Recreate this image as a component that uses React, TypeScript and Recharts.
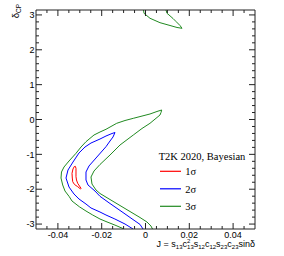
import React from "react"
import { LineChart, Line, XAxis, YAxis, Legend, Label } from "recharts"

// contour points [J, deltaCP]
const sigma1: number[][] = [
  [-0.03251, -1.349], [-0.03311, -1.42], [-0.03356, -1.544], [-0.03342, -1.679],
  [-0.03324, -1.785], [-0.03242, -1.865], [-0.03096, -1.928], [-0.02968, -1.994],
  [-0.02945, -1.974], [-0.03014, -1.908], [-0.03096, -1.831], [-0.03151, -1.736],
  [-0.03174, -1.641], [-0.03174, -1.506], [-0.03174, -1.4], [-0.03205, -1.343],
  [-0.03251, -1.349],
]

const sigma2: number[][] = [
  [-0.00571, -3.1416], [-0.00936, -2.999], [-0.01397, -2.855], [-0.01804, -2.74],
  [-0.02078, -2.654], [-0.02489, -2.539], [-0.02717, -2.425], [-0.03037, -2.281],
  [-0.03265, -2.138], [-0.03493, -1.937], [-0.0363, -1.679], [-0.03539, -1.449],
  [-0.03311, -1.22], [-0.03037, -0.961], [-0.02763, -0.789], [-0.02489, -0.675],
  [-0.02078, -0.56], [-0.01804, -0.474], [-0.0153, -0.402], [-0.01393, -0.373],
  [-0.01484, -0.502], [-0.01621, -0.617], [-0.01804, -0.78], [-0.0226, -1.105],
  [-0.0258, -1.334], [-0.02717, -1.506], [-0.02717, -1.736], [-0.02626, -1.879],
  [-0.02306, -2.052], [-0.02078, -2.204], [-0.01621, -2.41], [-0.01073, -2.649],
  [-0.00571, -2.87], [-0.00251, -3.01], [-0.00114, -3.1416],
]

const sigma3: number[][] = [
  [-0.00982, -3.1416], [-0.01347, -3.042], [-0.01804, -2.927], [-0.02078, -2.855],
  [-0.02411, -2.74], [-0.02717, -2.626], [-0.03023, -2.502], [-0.03356, -2.339],
  [-0.03479, -2.215], [-0.03676, -2.052], [-0.03781, -1.879], [-0.03858, -1.679],
  [-0.03836, -1.506], [-0.03721, -1.363], [-0.03493, -1.191], [-0.03174, -0.97],
  [-0.02945, -0.789], [-0.02717, -0.637], [-0.02352, -0.445], [-0.02078, -0.359],
  [-0.01804, -0.281], [-0.01315, -0.109], [-0.00936, -0.029], [-0.00557, 0.034],
  [0.00205, 0.158], [0.00525, 0.23], [0.0074, 0.273], [0.00708, 0.201],
  [0.00662, 0.129], [0.00205, -0.109], [-0.0016, -0.258], [-0.00557, -0.445],
  [-0.01164, -0.732], [-0.01621, -1.019], [-0.02078, -1.291], [-0.02352, -1.478],
  [-0.02489, -1.65], [-0.02443, -1.851], [-0.0226, -2.023], [-0.02078, -2.123],
  [-0.01621, -2.296], [-0.00936, -2.554], [-0.00251, -2.812], [0.00068, -2.941],
  [0.00251, -3.056], [0.0032, -3.1416],
]

// part of the 3 sigma region wrapping round to the top
const sigma3Top: number[][] = [
  [-0.00091, 3.1416], [-0.00068, 3.047], [0.00205, 2.904], [0.00662, 2.778],
  [0.01119, 2.697], [0.01438, 2.64], [0.01667, 2.617], [0.01575, 2.697],
  [0.01393, 2.812], [0.01256, 2.898], [0.01073, 2.999], [0.00982, 3.047],
  [0.00936, 3.1416],
]

const levelNames = ["1σ", "2σ", "3σ"]
const levelColors = ["#ff0000", "#0000ff", "#218a21"]

const xTicks = [
  -0.045, -0.04, -0.035, -0.03, -0.025, -0.02, -0.015, -0.01, -0.005, 0,
  0.005, 0.01, 0.015, 0.02, 0.025, 0.03, 0.035, 0.04, 0.045,
]
const xMajor = [-0.04, -0.02, 0, 0.02, 0.04]
const xLabels = ["-0.04", "-0.02", "0", "0.02", "0.04"]

const yTicks = [
  -3, -2.8, -2.6, -2.4, -2.2, -2, -1.8, -1.6, -1.4, -1.2, -1, -0.8, -0.6, -0.4, -0.2, 0,
  0.2, 0.4, 0.6, 0.8, 1, 1.2, 1.4, 1.6, 1.8, 2, 2.2, 2.4, 2.6, 2.8, 3,
]
const yMajor = [-3, -2, -1, 0, 1, 2, 3]
const yLabels = ["-3", "-2", "-1", "0", "1", "2", "3"]

const toRows = (pts: number[][]) => pts.map(([x, y]) => ({ x, y }))

const sans = "Liberation Sans, Arial, sans-serif"
const serif = "Liberation Serif, Times New Roman, serif"
const axisCol = "#222"

const findIdx = (list: number[], v: number) => list.findIndex((m) => Math.abs(m - v) < 1e-9)

function XTick(props: any) {
  const { x, y, payload, side } = props
  const i = findIdx(xMajor, payload.value)
  const len = i >= 0 ? 6 : 3
  const dir = side === "bottom" ? -1 : 1
  return (
    <g>
      <line x1={x} y1={y} x2={x} y2={y + dir * len} stroke={axisCol} />
      {side === "bottom" && i >= 0 && (
        <text x={x} y={y + 9} textAnchor="middle" fontSize={9} fontFamily={sans} fill="#000">
          {xLabels[i]}
        </text>
      )}
    </g>
  )
}

function YTick(props: any) {
  const { x, y, payload, side } = props
  const i = findIdx(yMajor, payload.value)
  const len = i >= 0 ? 6 : 3
  const dir = side === "left" ? 1 : -1
  return (
    <g>
      <line x1={x} y1={y} x2={x + dir * len} y2={y} stroke={axisCol} />
      {side === "left" && i >= 0 && (
        <text x={x - 1.5} y={y + 3.2} textAnchor="end" fontSize={9} fontFamily={sans} fill="#000">
          {yLabels[i]}
        </text>
      )}
    </g>
  )
}

function XTitle(props: any) {
  const vb = props.viewBox
  const sub = { fontSize: 6 }
  return (
    <text x={vb.x + vb.width} y={vb.y + 17.5} textAnchor="end" fontSize={9} fontFamily={sans} fill="#000">
      J = s<tspan dy={2.5} {...sub}>13</tspan>
      <tspan dy={-2.5}>c</tspan>
      <tspan dy={-3.5} {...sub}>2</tspan>
      <tspan dy={6} dx={-3.3} {...sub}>13</tspan>
      <tspan dy={-2.5}>s</tspan>
      <tspan dy={2.5} {...sub}>12</tspan>
      <tspan dy={-2.5}>c</tspan>
      <tspan dy={2.5} {...sub}>12</tspan>
      <tspan dy={-2.5}>s</tspan>
      <tspan dy={2.5} {...sub}>23</tspan>
      <tspan dy={-2.5}>c</tspan>
      <tspan dy={2.5} {...sub}>23</tspan>
      <tspan dy={-2.5}>sinδ</tspan>
    </text>
  )
}

function YTitle(props: any) {
  const vb = props.viewBox
  const tx = vb.x + vb.width - 17
  const ty = vb.y - 6
  return (
    <text x={tx} y={ty} transform={`rotate(-90, ${tx}, ${ty})`} textAnchor="end" fontSize={9.5} fontFamily={sans} fill="#000">
      δ<tspan dy={2.2} fontSize={6.5}>CP</tspan>
    </text>
  )
}

function LegendBox() {
  return (
    <svg width={100} height={70} style={{ display: "block" }}>
      <text x={2.7} y={12} fontSize={10.5} fontFamily={serif} fill="#000">
        T2K 2020, Bayesian
      </text>
      {levelNames.map((name, i) => (
        <g key={name}>
          <line x1={4} x2={25} y1={23.3 + i * 17.5} y2={23.3 + i * 17.5} stroke={levelColors[i]} strokeWidth={1.2} />
          <text x={29.3} y={27 + i * 17.5} fontSize={10.5} fontFamily={serif} fill="#000">
            {name}
          </text>
        </g>
      ))}
    </svg>
  )
}

const series = [
  { key: "s3", data: toRows(sigma3), color: levelColors[2] },
  { key: "s3top", data: toRows(sigma3Top), color: levelColors[2] },
  { key: "s2", data: toRows(sigma2), color: levelColors[1] },
  { key: "s1", data: toRows(sigma1), color: levelColors[0] },
]

export default function App() {
  return (
    <div style={{ position: "absolute", left: 0, top: 0, width: 284, height: 256, background: "#fff" }}>
      <LineChart width={284} height={256} margin={{ top: 9, right: 28, bottom: 26, left: 35 }}>
        <XAxis
          xAxisId="b" type="number" dataKey="x" domain={[-0.05, 0.05]} allowDataOverflow
          ticks={xTicks} interval={0} height={1} tickSize={0} tickMargin={0} tickLine={false}
          axisLine={{ stroke: axisCol }}
          tick={(p: any) => <XTick {...p} side="bottom" />}
        >
          <Label content={XTitle} />
        </XAxis>
        <XAxis
          xAxisId="t" orientation="top" type="number" dataKey="x" domain={[-0.05, 0.05]} allowDataOverflow
          ticks={xTicks} interval={0} height={1} tickSize={0} tickMargin={0} tickLine={false}
          axisLine={{ stroke: axisCol }}
          tick={(p: any) => <XTick {...p} side="top" />}
        />
        <YAxis
          yAxisId="l" type="number" domain={[-Math.PI, Math.PI]} allowDataOverflow
          ticks={yTicks} interval={0} width={1} tickSize={0} tickMargin={0} tickLine={false}
          axisLine={{ stroke: axisCol }}
          tick={(p: any) => <YTick {...p} side="left" />}
        >
          <Label content={YTitle} />
        </YAxis>
        <YAxis
          yAxisId="r" orientation="right" type="number" domain={[-Math.PI, Math.PI]} allowDataOverflow
          ticks={yTicks} interval={0} width={1} tickSize={0} tickMargin={0} tickLine={false}
          axisLine={{ stroke: axisCol }}
          tick={(p: any) => <YTick {...p} side="right" />}
        />
        {series.map((s) => (
          <Line
            key={s.key} xAxisId="b" yAxisId="l" data={s.data} dataKey="y" type="linear"
            stroke={s.color} strokeWidth={1} dot={false} activeDot={false}
            isAnimationActive={false} legendType="none"
          />
        ))}
        <Legend
          verticalAlign="middle" align="center" content={() => <LegendBox />}
          wrapperStyle={{ left: 156, top: 148, width: 100, height: 70 }}
        />
      </LineChart>
    </div>
  )
}
